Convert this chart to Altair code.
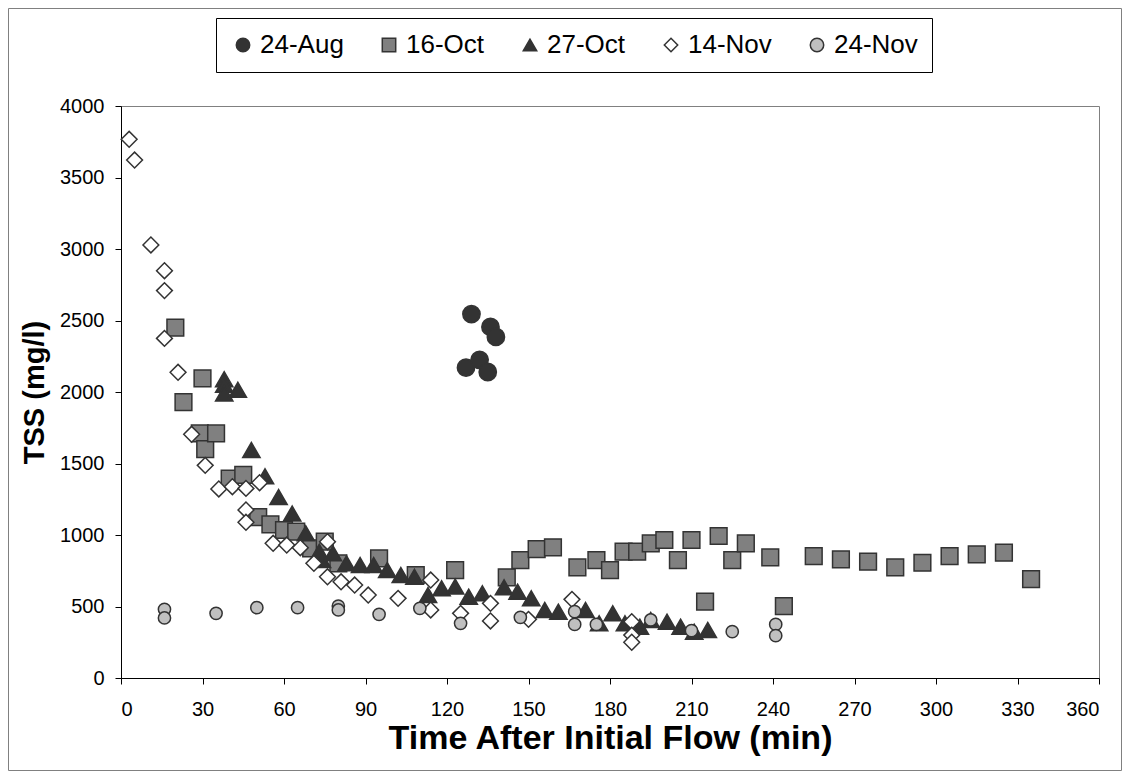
import altair as alt
import pandas as pd

series_order = ["24-Aug", "16-Oct", "27-Oct", "14-Nov", "24-Nov"]
shapes = ["circle", "square", "triangle-up", "diamond", "circle"]
fills = ["#333333", "#808080", "#333333", "#ffffff", "#c0c0c0"]
strokes = ["#333333", "#333333", "#333333", "#333333", "#333333"]
sizes = [300, 280, 300, 250, 150]

aug24_t = [127, 129, 132, 135, 136, 138]
aug24_v = [2170, 2545, 2225, 2140, 2455, 2385]

oct16_t = [20, 23, 29, 30, 31, 35, 40, 45, 50.5, 55, 60, 64.5, 70, 75, 80, 95,
           108.5, 123, 142, 147, 153, 159, 168, 175, 180, 185, 190, 195, 200,
           205, 210, 215, 220, 225, 230, 239, 244, 255, 265, 275, 285, 295,
           305, 315, 325, 335]
oct16_v = [2450, 1930, 1710, 2095, 1600, 1710, 1395, 1420, 1125, 1075, 1035,
           1023, 907, 953, 802, 837, 720, 755, 704, 825, 902, 914, 774, 825,
           755, 883, 883, 942, 965, 825, 965, 534, 993, 825, 942, 844, 503,
           853, 830, 813, 774, 806, 853, 865, 876, 692]

oct27_t = [38, 38, 38, 43, 48, 53, 58, 63, 68, 73, 74, 78, 83, 88, 93, 98, 103,
           108, 113, 118, 123, 128, 133, 141, 146, 151, 156, 161, 171, 176,
           181, 185.5, 191, 195, 201, 206, 211, 216]
oct27_v = [2090, 2050, 1990, 2015, 1595, 1410, 1265, 1150, 1012, 883, 825, 872,
           802, 790, 790, 755, 720, 708, 580, 627, 639, 569, 592, 634, 604, 557,
           476, 464, 476, 382, 452, 382, 359, 406, 394, 359, 324, 336]

nov14_t = [3, 5, 11, 16, 16, 16, 21, 26, 31, 36, 41, 46, 51, 46, 46, 56, 61, 66,
           71, 76, 76, 81, 86, 91, 102, 114, 114, 125, 136, 136, 150, 166, 188,
           188, 188]
nov14_v = [3767, 3622, 3028, 2848, 2709, 2375, 2138, 1704, 1487, 1322, 1338,
           1326, 1366, 1175, 1089, 942, 930, 911, 802, 953, 708, 673, 650, 580,
           557, 685, 476, 452, 522, 399, 410, 550, 394, 300, 250]

nov24_t = [16, 16, 35, 50, 65, 80, 80, 95, 110, 125, 147, 167, 167, 175, 195,
           210, 225, 241, 241]
nov24_v = [480, 420, 452, 492, 492, 503, 476, 445, 487, 382, 424, 464, 375,
           375, 406, 331, 324, 375, 296]

x_ticks = list(range(0, 361, 30))
y_ticks = list(range(0, 4001, 500))

rows = []
for name, ts, vs in [("24-Aug", aug24_t, aug24_v), ("16-Oct", oct16_t, oct16_v),
                     ("27-Oct", oct27_t, oct27_v), ("14-Nov", nov14_t, nov14_v),
                     ("24-Nov", nov24_t, nov24_v)]:
    for t, v in zip(ts, vs):
        rows.append({"series": name, "t": t, "v": v})
df = pd.DataFrame(rows)

FONT = "Liberation Sans"
W, H = 978, 572
PAD_L, PAD_T, PAD_R, PAD_B = 113, 98, 23, 93

legend = alt.Legend(
    title=None, orient="none", legendX=95, legendY=-88, direction="horizontal",
    strokeColor="#000000", fillColor="#ffffff", padding=14,
    symbolSize=180, symbolStrokeWidth=1.5,
    symbolOpacity=1, labelFontSize=26, labelFont=FONT, labelColor="#000000",
    labelOffset=4, columnPadding=32,
)

x_enc = alt.X("t:Q", scale=alt.Scale(domain=[0, 360], nice=False),
              axis=alt.Axis(values=x_ticks, title="Time After Initial Flow (min)",
                            grid=False, tickSize=6, labelPadding=15,
                            titlePadding=2, titleFontSize=34))
y_enc = alt.Y("v:Q", scale=alt.Scale(domain=[0, 4000], nice=False),
              axis=alt.Axis(values=y_ticks, format="d", title="TSS (mg/l)",
                            grid=False, tickSize=6, labelPadding=11,
                            titlePadding=10, titleFontSize=29))
shape_enc = alt.Shape("series:N", scale=alt.Scale(domain=series_order, range=shapes),
                      legend=legend)
fill_enc = alt.Fill("series:N", scale=alt.Scale(domain=series_order, range=fills),
                    legend=legend)
stroke_enc = alt.Stroke("series:N", scale=alt.Scale(domain=series_order, range=strokes),
                        legend=legend)

base = alt.Chart(df).encode(x=x_enc, y=y_enc, shape=shape_enc, fill=fill_enc,
                            stroke=stroke_enc)

layers = []
for s, sz in zip(series_order, sizes):
    layers.append(
        base.transform_filter(alt.datum.series == s).mark_point(
            filled=False, size=sz, strokeWidth=1.5, opacity=1, fillOpacity=1
        )
    )

frame = alt.Chart(pd.DataFrame({"a": [0]})).mark_rect(
    fill="transparent", stroke="#808080", strokeWidth=1
).encode(
    x=alt.value(-PAD_L + 0.5), x2=alt.value(W + PAD_R - 0.5),
    y=alt.value(-PAD_T + 0.5), y2=alt.value(H + PAD_B - 0.5)
)

chart = alt.layer(frame, *layers).properties(
    width=W, height=H,
    autosize=alt.AutoSizeParams(type="none"),
    padding={"left": PAD_L, "top": PAD_T, "right": PAD_R, "bottom": PAD_B},
).configure_view(
    stroke="#808080", strokeWidth=1
).configure_axis(
    labelFont=FONT, labelFontSize=20, labelColor="#000000",
    titleFont=FONT, titleFontWeight="bold", titleColor="#000000",
    domainColor="#000000", tickColor="#000000", domainWidth=1, tickWidth=1,
)

chart.save("out.html", embed_options={"renderer": "svg", "actions": False})
